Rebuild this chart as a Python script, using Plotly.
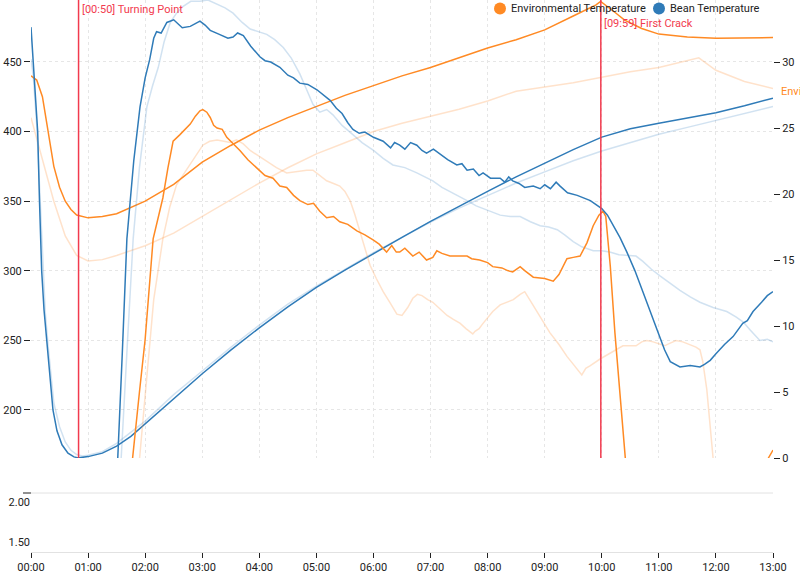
import plotly.graph_objects as go

# ---------------- data (time in minutes) ----------------
minute_ticks = list(range(0, 14))
minute_labels = ["%02d:00" % m for m in minute_ticks]

# Bean temperature (current roast)
bt_t = [0, 0.040, 0.079, 0.117, 0.149, 0.187, 0.228, 0.275, 0.333, 0.385, 0.455, 0.543, 0.648, 0.753, 0.833,
        1.0, 1.25, 1.5, 1.75, 2.0, 2.5, 3.0, 3.5, 4.0, 4.5, 5.0, 5.5, 6.0, 6.5, 7.0, 7.5, 8.0, 8.5, 9.0, 9.5,
        10.0, 10.5, 11.0, 11.5, 12.0, 12.5, 13.0]
bt_v = [475, 450, 425, 400, 350, 300, 272, 250, 222, 200, 185, 175, 169, 166.3, 165.6,
        166.5, 169, 174, 181, 190, 208, 226, 243, 259, 274, 288, 300.5, 312.5, 324, 335.5, 346.5, 357, 367.5, 377.5, 387,
        396, 402, 406, 409.5, 413.5, 418.5, 424]

# Bean temperature (reference roast)
bt_ref_t = [0, 0.04, 0.1, 0.15, 0.2, 0.25, 0.3, 0.35, 0.4, 0.5, 0.6, 0.7, 0.8, 0.9, 1.0, 1.25, 1.5, 2.0, 2.5, 3.0,
            3.5, 4.0, 4.5, 5.0, 5.5, 6.0, 6.5, 7.0, 7.5, 8.0, 8.5, 9.0, 9.5, 10.0, 10.5, 11.0, 11.5, 12.0, 12.5, 13.0]
bt_ref_v = [452, 440, 405, 360, 305, 270, 246, 224, 205, 188, 177, 171, 168, 167, 167.5, 170, 176, 192, 211, 228,
            245, 261, 276, 289, 301, 313, 324, 335, 345, 354, 363, 371, 379, 386, 392, 398, 403, 408, 413, 418]

# Environmental temperature (current roast)
et_t = [0, 0.1, 0.2, 0.3, 0.4, 0.5, 0.6, 0.7, 0.8, 1.0, 1.25, 1.5, 2.0, 2.5, 3.0, 3.5, 4.0, 4.5, 5.0, 5.5, 6.0,
        6.5, 7.0, 7.5, 8.0, 8.5, 9.0, 9.5, 9.9, 9.98, 10.1, 10.25, 10.4, 10.7, 11.0, 11.5, 12.0, 12.5, 13.0]
et_v = [440, 437, 425, 400, 375, 360, 350, 344, 340, 338, 339, 341, 350, 362, 378, 390, 401, 410, 418, 426, 433,
        440, 446, 453, 460, 466, 473, 483, 491, 493.5, 490, 485, 480, 474, 470, 468, 467, 467, 467.5]

# Environmental temperature (reference roast)
et_ref_t = [0, 0.2, 0.4, 0.6, 0.8, 1.0, 1.25, 1.5, 2.0, 2.5, 3.0, 3.5, 4.0, 4.5, 5.0, 5.5, 6.0, 6.5, 7.0, 7.5, 8.0,
            8.5, 9.0, 9.5, 10.0, 10.5, 11.0, 11.5, 11.7, 12.0, 12.5, 13.0]
et_ref_v = [410, 380, 350, 325, 311, 307, 308, 311, 318, 327, 339, 351, 363, 374, 384, 392, 400, 406, 411, 416, 422,
            429, 432, 435, 439, 443, 446, 451, 453, 444, 436, 431]

# Bean temperature rate of rise (current roast)
bt_ror_t = [1.45, 1.52, 1.6, 1.68, 1.8, 1.91, 2.0, 2.08, 2.15, 2.2, 2.28, 2.38, 2.5, 2.65, 2.79, 2.96, 3.05, 3.14,
            3.3, 3.45, 3.54, 3.62, 3.72, 3.85, 4.01, 4.1, 4.2, 4.36, 4.5, 4.6, 4.71, 4.85, 5.01, 5.12, 5.24, 5.35,
            5.45, 5.55, 5.64, 5.75, 5.85, 6.0, 6.17, 6.3, 6.37, 6.46, 6.55, 6.65, 6.76, 6.85, 6.93, 7.05, 7.17,
            7.3, 7.46, 7.55, 7.64, 7.75, 7.85, 7.92, 8.05, 8.22, 8.3, 8.37, 8.44, 8.55, 8.65, 8.8, 8.92, 9.0, 9.1,
            9.2, 9.27, 9.4, 9.57, 9.68, 9.8, 9.9, 10.0, 10.1, 10.2, 10.32, 10.44, 10.58, 10.72, 10.87, 11.02,
            11.1, 11.2, 11.37, 11.55, 11.72, 11.8, 11.9, 12.0, 12.15, 12.3, 12.47, 12.55, 12.65, 12.8, 12.9, 13.0]
bt_ror_v = [-4, 0, 8, 16.6, 22.5, 26.6, 28.8, 30.2, 31.8, 32.3, 32.2, 33.0, 33.2, 32.6, 32.7, 33.1, 32.8, 32.4,
            32.1, 31.8, 31.9, 32.2, 32.0, 31.2, 30.4, 30.1, 30.0, 29.6, 29.0, 28.8, 28.4, 28.3, 27.9, 27.5, 27.1, 26.5,
            26.1, 25.4, 24.9, 24.6, 24.7, 24.3, 24.0, 23.5, 23.9, 23.7, 23.4, 23.9, 23.7, 23.3, 23.1, 23.4, 23.0,
            22.6, 22.2, 22.3, 21.8, 21.9, 21.4, 21.6, 21.2, 21.2, 20.9, 21.3, 21.0, 20.8, 20.5, 20.6, 20.4, 20.7, 20.4,
            20.9, 20.6, 20.1, 19.9, 19.7, 19.5, 19.2, 18.9, 18.4, 17.6, 16.7, 15.6, 14.2, 12.6, 10.9, 9.2,
            8.2, 7.3, 6.9, 7.0, 6.9, 7.1, 7.4, 7.9, 8.6, 9.2, 10.2, 10.4, 11.1, 11.8, 12.3, 12.6]

# Bean temperature rate of rise (reference roast)
bt_ref_ror_t = [1.5, 1.58, 1.68, 1.79, 1.9, 2.03, 2.13, 2.23, 2.33, 2.44, 2.55, 2.66, 2.8, 2.96, 3.1, 3.26, 3.4,
                3.54, 3.7, 3.84, 4.0, 4.13, 4.27, 4.42, 4.56, 4.71, 4.83, 4.94, 5.06, 5.18, 5.29, 5.45, 5.64, 5.8,
                6.0, 6.17, 6.34, 6.55, 6.76, 6.9, 7.04, 7.2, 7.34, 7.5, 7.64, 7.8, 7.92, 8.07, 8.22, 8.4, 8.57,
                8.75, 8.92, 9.07, 9.22, 9.35, 9.5, 9.65, 9.85, 10.0, 10.14, 10.3, 10.5, 10.6, 10.72, 10.87, 11.02,
                11.2, 11.37, 11.55, 11.72, 11.95, 12.19, 12.35, 12.48, 12.6, 12.77, 12.9, 13.0]
bt_ref_ror_v = [-4, 0, 8, 16.6, 22, 26.6, 28.2, 29.6, 31.5, 33.0, 33.7, 34.2, 34.6, 34.6, 34.7, 34.4, 34.1,
                33.7, 33.0, 32.5, 32.3, 32.1, 31.7, 31.1, 30.3, 29.1, 27.9, 26.8, 26.2, 26.4, 26.0, 25.2, 24.5, 23.9,
                23.3, 22.7, 22.2, 22.0, 21.6, 21.3, 21.0, 20.5, 20.2, 19.8, 19.5, 19.1, 18.9, 18.6, 18.4, 18.3, 18.3,
                17.9, 17.6, 17.5, 17.3, 16.9, 16.4, 16.0, 15.7, 15.7, 15.6, 15.4, 15.3, 15.3, 14.9, 14.3, 13.8,
                13.2, 12.7, 12.2, 11.8, 11.4, 11.1, 10.7, 10.3, 9.7, 8.9, 9.0, 8.8]

# Environmental temperature rate of rise (current roast)
et_ror_t = [1.7, 1.78, 1.9, 2.0, 2.14, 2.31, 2.4, 2.49, 2.61, 2.7, 2.79, 2.88, 2.96, 3.01, 3.08, 3.14, 3.2, 3.26,
            3.35, 3.43, 3.55, 3.66, 3.8, 3.96, 4.1, 4.24, 4.36, 4.48, 4.6, 4.71, 4.85, 4.95, 5.06, 5.18, 5.3, 5.41,
            5.55, 5.71, 5.85, 6.0, 6.1, 6.23, 6.32, 6.4, 6.46, 6.55, 6.69, 6.8, 6.93, 7.04, 7.11, 7.2, 7.34, 7.5,
            7.64, 7.72, 7.86, 8.0, 8.09, 8.25, 8.35, 8.44, 8.57, 8.65, 8.8, 9.0, 9.15, 9.25, 9.39, 9.5, 9.62, 9.74,
            9.85, 9.95, 10.02, 10.07, 10.15, 10.23, 10.32, 10.4, 10.5, 10.7, 12.6, 12.85, 12.92, 12.97, 13.0]
et_ror_v = [-4, 0, 5, 9, 16.6, 19.7, 22, 24.0, 24.5, 24.9, 25.3, 25.9, 26.3, 26.4, 26.2, 25.8, 25.2, 25.0,
            24.9, 24.3, 23.8, 23.3, 22.6, 22.0, 21.4, 21.2, 20.6, 20.5, 19.9, 19.5, 19.2, 19.3, 18.7, 18.2, 18.3, 17.9,
            17.7, 17.2, 16.9, 16.5, 16.2, 15.6, 16.1, 15.6, 15.6, 15.9, 15.3, 15.6, 15.0, 15.2, 15.7, 15.5, 15.3, 15.3,
            15.3, 15.1, 15.0, 14.8, 14.5, 14.4, 14.2, 14.1, 14.5, 14.2, 13.7, 13.6, 13.4, 13.9, 15.1, 15.2, 15.3, 16.3,
            17.6, 18.4, 18.7, 18.3, 14.5, 9.5, 4.5, 0, -5, -15, -15, -0.8, 0.0, 0.4, 0.6]

# Environmental temperature rate of rise (reference roast)
et_ref_ror_t = [1.82, 1.9, 2.0, 2.15, 2.31, 2.43, 2.55, 2.67, 2.79, 2.9, 3.01, 3.13, 3.26, 3.38, 3.49, 3.6, 3.72,
                3.84, 3.98, 4.13, 4.3, 4.48, 4.65, 4.83, 4.94, 5.06, 5.18, 5.3, 5.41, 5.5, 5.59, 5.67, 5.76, 5.85,
                5.94, 6.05, 6.17, 6.3, 6.41, 6.5, 6.6, 6.69, 6.77, 6.85, 6.95, 7.04, 7.17, 7.29, 7.4, 7.52, 7.62,
                7.69, 7.74, 7.78, 7.85, 7.92, 8.0, 8.09, 8.22, 8.34, 8.45, 8.57, 8.65, 8.75, 8.86, 8.97, 9.09, 9.25,
                9.39, 9.52, 9.65, 9.72, 9.8, 9.97, 10.14, 10.25, 10.37, 10.48, 10.6, 10.7, 10.79, 10.9, 11.02, 11.1,
                11.2, 11.3, 11.42, 11.55, 11.65, 11.72, 11.77, 11.84, 11.9, 11.95, 12.0, 12.1, 13.0]
et_ref_ror_v = [-4, 0, 5, 12, 16.6, 19, 20.7, 21.5, 22.2, 23.0, 23.7, 24.0, 24.1, 24.0, 23.9, 24.1, 23.8,
                23.3, 22.9, 22.5, 22.0, 21.6, 21.7, 21.8, 21.8, 21.4, 21.0, 20.8, 20.6, 20.2, 19.5, 18.5, 17.2, 15.9,
                14.6, 13.6, 12.6, 11.7, 10.9, 10.8, 11.4, 12.1, 12.4, 12.3, 12.0, 11.8, 11.3, 10.8, 10.5, 10.2, 9.8,
                9.6, 9.4, 9.6, 9.8, 10.2, 10.6, 11.1, 11.6, 11.8, 12.0, 12.4, 12.6, 11.9, 11.1, 10.3, 9.5, 8.6,
                7.7, 7.0, 6.3, 6.8, 7.0, 7.5, 7.9, 8.2, 8.5, 8.5, 8.5, 8.8, 8.9, 8.8, 8.6, 8.5,
                8.7, 8.9, 8.8, 8.6, 8.4, 8.2, 7.3, 5.2, 2.5, 0, -4, -15, -15]

events = [(50 / 60, "[00:50] Turning Point", 0), (599 / 60, "[09:59] First Crack", 1)]
legend_names = ["Environmental Temperature", "Bean Temperature"]

# ---------------- styling ----------------
ORANGE = "#ff8a24"
BLUE = "#2f7bb8"
ORANGE_L = "rgba(255,150,70,0.28)"
BLUE_L = "rgba(70,140,200,0.25)"
RED = "#f23a4e"
FONT = "Roboto"

fig = go.Figure()

def add_line(t, v, color, yaxis):
    fig.add_trace(go.Scatter(x=t, y=v, mode="lines", line=dict(color=color, width=1.5),
                             yaxis=yaxis, xaxis="x", showlegend=False, hoverinfo="skip"))

add_line(et_ref_t, et_ref_v, ORANGE_L, "y")
add_line(bt_ref_t, bt_ref_v, BLUE_L, "y")
add_line(et_ref_ror_t, et_ref_ror_v, ORANGE_L, "y2")
add_line(bt_ref_ror_t, bt_ref_ror_v, BLUE_L, "y2")
add_line(et_t, et_v, ORANGE, "y")
add_line(bt_t, bt_v, BLUE, "y")
add_line(et_ror_t, et_ror_v, ORANGE, "y2")
add_line(bt_ror_t, bt_ror_v, BLUE, "y2")

# invisible trace for bottom panel axes
fig.add_trace(go.Scatter(x=[0, 13], y=[None, None], xaxis="x2", yaxis="y3", showlegend=False,
                         mode="lines", hoverinfo="skip"))

PLOT_W, PLOT_H = 742, 552
main_bottom = (552 - 458) / PLOT_H
sub_top = (552 - 493) / PLOT_H

shapes = []
annotations = []
for tx, label, row in events:
    shapes.append(dict(type="line", xref="x", yref="y domain", x0=tx, x1=tx, y0=0, y1=1,
                       line=dict(color=RED, width=1.5)))
    annotations.append(dict(xref="x", yref="y domain", x=tx, y=1, xanchor="left", yanchor="top",
                            xshift=1, yshift=-1 - 14 * row, text=label, showarrow=False,
                            font=dict(family=FONT, size=11, color=RED)))

# legend drawn as circle markers + labels (top right)
leg_y = 1 - 8.5 / PLOT_H
for name, col, cx in zip(legend_names, [ORANGE, BLUE], [500, 659]):
    px = (cx - 31) / PLOT_W
    shapes.append(dict(type="circle", xref="paper", yref="paper", xsizemode="pixel", ysizemode="pixel",
                       xanchor=px, yanchor=leg_y, x0=-6, x1=6, y0=-6, y1=6,
                       fillcolor=col, line=dict(width=0)))
    annotations.append(dict(xref="paper", yref="paper", x=px, y=leg_y, xshift=9, xanchor="left",
                            yanchor="middle", text=name, showarrow=False,
                            font=dict(family=FONT, size=11, color="#222")))

shapes.append(dict(type="line", xref="paper", yref="paper", x0=0, x1=1, y0=sub_top, y1=sub_top,
                   line=dict(color="#e2e2e2", width=1)))
shapes.append(dict(type="line", xref="paper", yref="paper", x0=-8 / PLOT_W, x1=0, y0=sub_top, y1=sub_top,
                   line=dict(color="#222", width=1)))

annotations.append(dict(xref="paper", yref="y", x=1, y=et_ref_v[-1], xanchor="left", yanchor="middle",
                        xshift=6, yshift=-3, text="Environmental Temperature", showarrow=False,
                        font=dict(family=FONT, size=11, color=ORANGE)))

grid = dict(showgrid=True, gridcolor="#e6e6e6", griddash="dot", gridwidth=1)

fig.update_layout(
    width=800, height=575,
    margin=dict(l=31, r=27, t=0, b=23),
    paper_bgcolor="white", plot_bgcolor="white",
    font=dict(family=FONT, size=11, color="#222"),
    showlegend=False,
    xaxis=dict(domain=[0, 1], anchor="y", range=[0, 13], tickvals=minute_ticks, showticklabels=False,
               ticks="", zeroline=False, showline=False, **grid),
    yaxis=dict(domain=[main_bottom, 1], anchor="x", range=[165.5, 494.5],
               tickvals=[200, 250, 300, 350, 400, 450], ticks="outside", ticklen=6, tickcolor="#222",
               zeroline=False, showline=False, **grid),
    yaxis2=dict(overlaying="y", side="right", anchor="x", range=[0, 34.7],
                tickvals=[0, 5, 10, 15, 20, 25, 30, 35], ticks="outside", ticklen=6, tickcolor="#222",
                showgrid=False, zeroline=False, showline=False),
    xaxis2=dict(domain=[0, 1], anchor="y3", range=[0, 13], tickvals=minute_ticks, ticktext=minute_labels,
                ticks="outside", ticklen=5, tickcolor="#222", showline=True, linecolor="#e2e2e2",
                showgrid=False, zeroline=False),
    yaxis3=dict(domain=[0, sub_top], anchor="x2", range=[1.375, 2.1125], tickvals=[1.5, 2.0],
                ticktext=["1.50", "2.00"], ticks="", showgrid=False, zeroline=False, showline=False),
    shapes=shapes,
    annotations=annotations,
)

fig.write_html("out.html")
